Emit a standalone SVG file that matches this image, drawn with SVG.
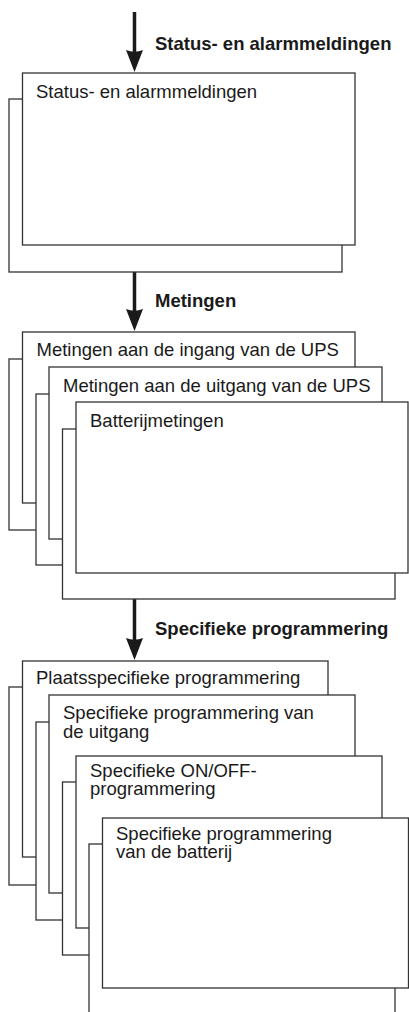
<svg xmlns="http://www.w3.org/2000/svg" xmlns:xlink="http://www.w3.org/1999/xlink" width="409" height="1012" viewBox="0 0 409 1012">
<style>
.bx{fill:#fff;stroke:#333;stroke-width:1.3}
.t{font-family:"Liberation Sans",Arial,sans-serif;font-size:18.5px;fill:#1a1a1a}
.lb{font-family:"Liberation Sans",Arial,sans-serif;font-size:18.5px;font-weight:bold;fill:#1a1a1a}
.sh{stroke:#1a1a1a;stroke-width:3.5;fill:none}
</style>
<defs>
<path id="head" d="M0,0 L-8.5,-22 Q0,-18.5 8.5,-22 Z" fill="#1a1a1a"/>
</defs>
<rect width="409" height="1012" fill="#fff"/>
<g id="connectors">
<line class="sh" x1="134.5" y1="12" x2="134.5" y2="54"/>
<use xlink:href="#head" x="134.5" y="72"/>
<line class="sh" x1="134.5" y1="272" x2="134.5" y2="313"/>
<use xlink:href="#head" x="134.5" y="331"/>
<line class="sh" x1="134.5" y1="599" x2="134.5" y2="642"/>
<use xlink:href="#head" x="134.5" y="660"/>
</g>
<g id="labels">
<text class="lb" x="155" y="50">Status- en alarmmeldingen</text>
<text class="lb" x="155" y="307">Metingen</text>
<text class="lb" x="155" y="635">Specifieke programmering</text>
</g>
<g id="node-status">
<rect class="bx" x="9" y="99" width="333" height="173"/>
<rect class="bx" x="22.5" y="73" width="332.5" height="172"/>
<text class="t" x="36" y="98">Status- en alarmmeldingen</text>
</g>
<g id="node-ingang">
<rect class="bx" x="9" y="359" width="332.5" height="171"/>
<rect class="bx" x="22.5" y="332" width="332.5" height="171"/>
<text class="t" x="36.5" y="356">Metingen aan de ingang van de UPS</text>
</g>
<g id="node-uitgang">
<rect class="bx" x="36" y="394" width="333" height="171"/>
<rect class="bx" x="49" y="367" width="333" height="172"/>
<text class="t" x="63" y="392">Metingen aan de uitgang van de UPS</text>
</g>
<g id="node-batterij">
<rect class="bx" x="62.5" y="429" width="332.5" height="170"/>
<rect class="bx" x="76" y="402" width="332" height="171"/>
<text class="t" x="90" y="427">Batterijmetingen</text>
</g>
<g id="node-plaats">
<rect class="bx" x="9" y="687" width="305.5" height="198"/>
<rect class="bx" x="22.5" y="661" width="305.5" height="196"/>
<text class="t" x="36" y="684">Plaatsspecifieke programmering</text>
</g>
<g id="node-prog-uitgang">
<rect class="bx" x="36" y="722" width="306" height="198"/>
<rect class="bx" x="49" y="695" width="306" height="198"/>
<text class="t" x="63" y="719">Specifieke programmering van</text>
<text class="t" x="63" y="737.5">de uitgang</text>
</g>
<g id="node-onoff">
<rect class="bx" x="62.5" y="782" width="306" height="173"/>
<rect class="bx" x="76" y="756" width="306" height="172"/>
<text class="t" x="90" y="776.5">Specifieke ON/OFF-</text>
<text class="t" x="90" y="795">programmering</text>
</g>
<g id="node-prog-batterij">
<rect class="bx" x="89" y="844" width="306" height="175"/>
<rect class="bx" x="102.5" y="818" width="306" height="170"/>
<text class="t" x="116" y="839.5">Specifieke programmering</text>
<text class="t" x="116" y="858">van de batterij</text>
</g>
</svg>
